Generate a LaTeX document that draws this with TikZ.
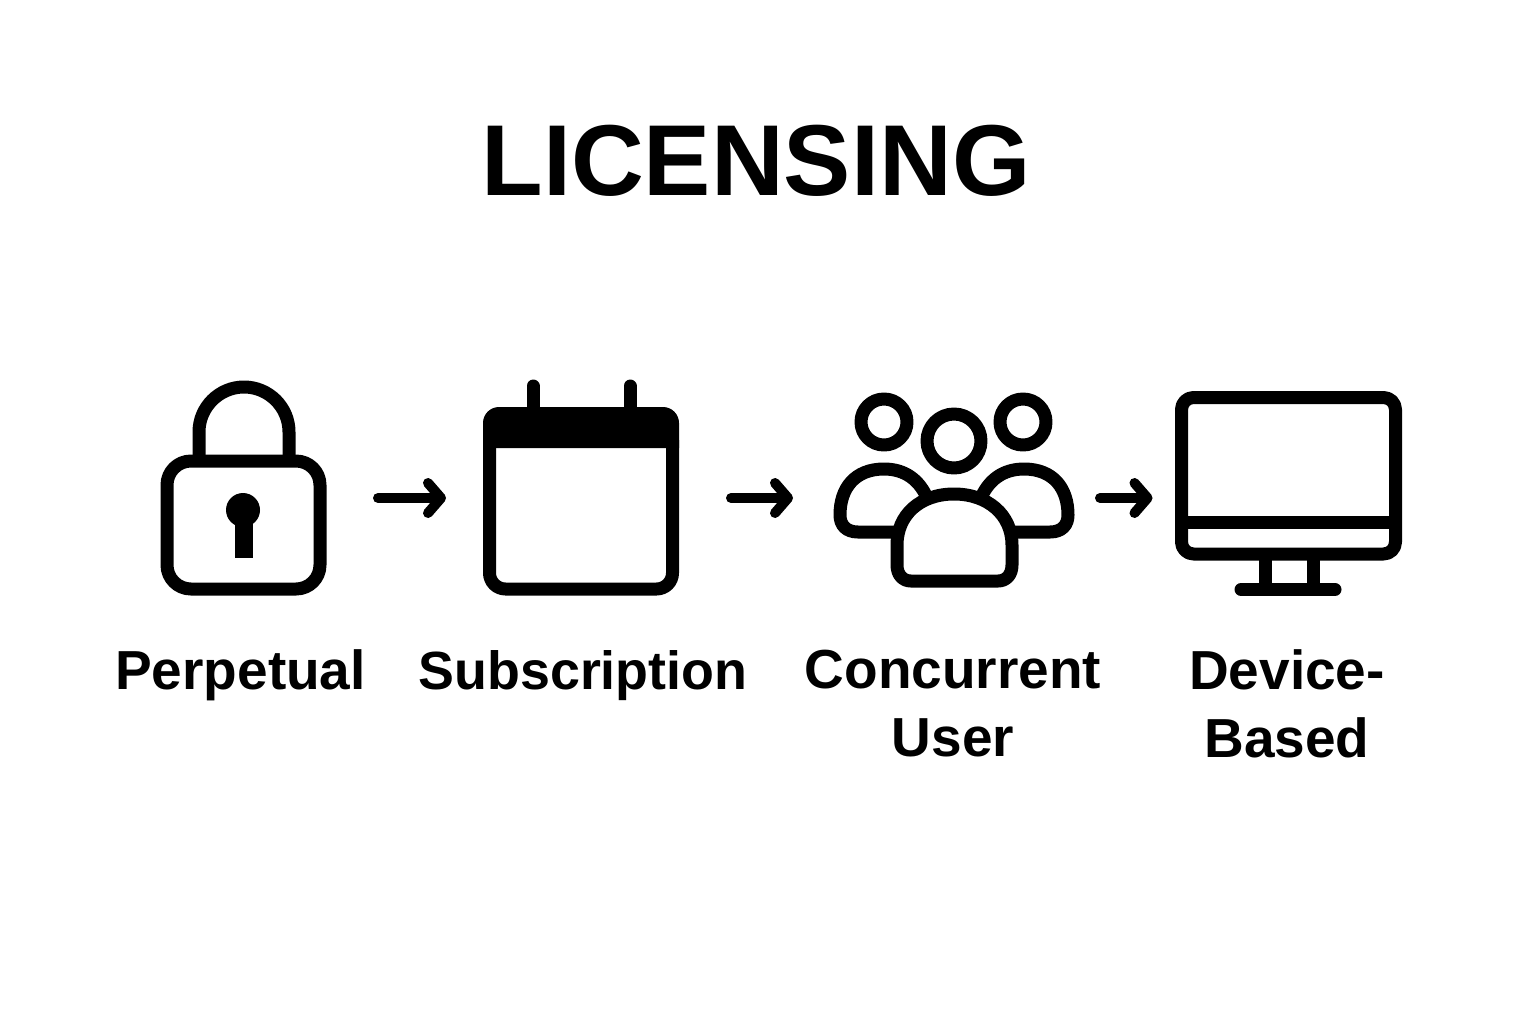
\documentclass[tikz,border=0pt]{standalone}
\usepackage{xcolor}
\usepackage{fontspec}
\setmainfont{Liberation Sans}
\usetikzlibrary{positioning,arrows.meta}

\tikzset{
	iconbox/.style={minimum height=98pt, inner sep=0pt, outer sep=0pt},
	iconline/.style={draw=black, line width=6.5pt, line join=round},
	flowarrow/.style={line width=5pt, line cap=round, -{Straight Barb[length=6.5pt, width=15pt, round]}},
	captiontext/.style={align=center, inner sep=0pt, font=\fontsize{27.5}{34}\selectfont\bfseries, execute at begin node=\strut},
}

\begin{document}
\begin{tikzpicture}[x=0.5pt, y=-0.5pt, node distance=170pt]
				\useasboundingbox (0,0) rectangle (1536,1024);
				\node (title) [font=\fontsize{50.4}{60}\selectfont\bfseries, inner sep=0pt] at (756,161) {LICENSING};

				\node (lock) [iconbox, minimum width=83.5pt] at (243.5,498) {};
				\node (calendar) [iconbox, minimum width=98pt, right of=lock, xshift=-1.25pt] {};
				\node (users) [iconbox, minimum width=121pt, right of=calendar, xshift=16.5pt] {};
				\node (monitor) [iconbox, minimum width=113.5pt, right of=users, xshift=-3pt] {};

				\node (perpetual) [captiontext, below=22.7pt of lock, xshift=-1.5pt] {Perpetual};
				\node (subscription) [captiontext, font=\fontsize{26.9}{34}\selectfont\bfseries, below=22.7pt of calendar, xshift=1pt] {Subscription};
				\node (concurrent) [captiontext, below=26.7pt of users, xshift=-0.5pt] {Concurrent\\User};
				\node (device) [captiontext, below=26.7pt of monitor, xshift=-0.5pt] {Device-\\Based};

				\draw [iconline, rounded corners=12pt] (167,461) rectangle (320,589);
				\draw [iconline] (199,461) -- (199,432) arc (180:360:45) -- (289,461);
				\fill (243,510) circle (8.5pt);
				\fill (235,510) rectangle (253,558);

				\fill (483,448) [rounded corners=8pt] -- (483,407) -- (679,407) [sharp corners] -- (679,448) -- cycle;
				\draw [iconline, rounded corners=8pt] (489.5,440) -- (489.5,589) -- (672.5,589) -- (672.5,440);
				\draw [iconline, line cap=round] (533,386) -- (533,410);
				\draw [iconline, line cap=round] (630,386) -- (630,410);

				\draw [iconline] (884,422) circle (11.5pt);
				\draw [iconline] (1023,422) circle (11.5pt);
				\draw [iconline] (954,441) circle (13.5pt);
				\draw [iconline] (900,532) -- (858,532) .. controls (846,532) and (840,525) .. (840,515) .. controls (840,488) and (855,469) .. (884,469) .. controls (905,469) and (920,480) .. (928,500);
				\draw [iconline] (1008,532) -- (1050,532) .. controls (1062,532) and (1068,525) .. (1068,515) .. controls (1068,488) and (1053,469) .. (1024,469) .. controls (1003,469) and (988,480) .. (980,500);
				\filldraw [iconline, fill=white] (897,545) .. controls (897,515) and (920,494) .. (954,494) .. controls (988,494) and (1012,515) .. (1012,545) -- (1012,565) .. controls (1012,575) and (1006,581) .. (998,581) -- (911,581) .. controls (903,581) and (897,575) .. (897,565) -- cycle;

				\draw [iconline, rounded corners=6pt] (1181.5,397.5) rectangle (1395.5,554);
				\draw [iconline] (1181.5,522) -- (1395.5,522);
				\draw [iconline] (1265,554) -- (1265,589);
				\draw [iconline] (1313,554) -- (1313,589);
				\draw [iconline, line cap=round] (1241,589.5) -- (1335,589.5);

				\draw [flowarrow, shorten <=25.5pt, shorten >=18.5pt] (lock) -- (calendar);
				\draw [flowarrow, shorten <=26pt, shorten >=20pt] (calendar) -- (users);
				\draw [flowarrow, shorten <=12.5pt, shorten >=11pt] (users) -- (monitor);
			\end{tikzpicture}
\end{document}
